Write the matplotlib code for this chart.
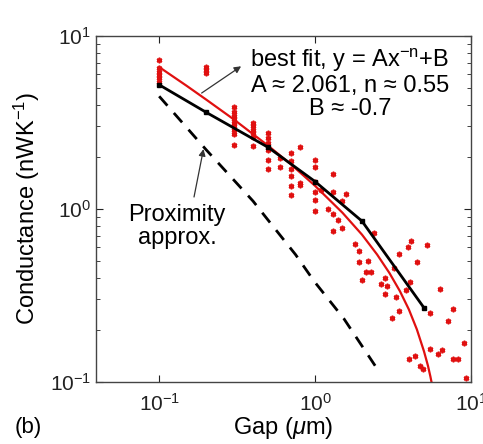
import matplotlib.pyplot as plt

plt.rcParams['font.family'] = ['Liberation Sans', 'DejaVu Sans']
plt.rcParams['mathtext.fontset'] = 'custom'
plt.rcParams['mathtext.rm'] = 'Liberation Sans'
plt.rcParams['mathtext.it'] = 'Liberation Sans:italic'
plt.rcParams['axes.unicode_minus'] = False

# measured conductance (red points)
gap_pts = [0.1, 0.1, 0.1, 0.1, 0.1, 0.1,
           0.2, 0.2, 0.2,
           0.3, 0.3, 0.3, 0.3, 0.3, 0.3, 0.3, 0.3, 0.3,
           0.4, 0.4, 0.4, 0.4, 0.4, 0.4,
           0.5, 0.5, 0.5, 0.5, 0.5, 0.5,
           0.6, 0.6,
           0.7, 0.7, 0.7, 0.7, 0.7, 0.7,
           0.8, 0.8, 0.8,
           1.0, 1.0, 1.0, 1.0, 1.0, 1.0,
           1.09, 1.21, 1.3, 1.3, 1.3, 1.3, 1.4, 1.5, 1.5, 1.58,
           1.8, 1.91, 1.91, 2.01, 2.11, 2.3, 2.19, 2.39, 2.64, 2.8, 2.91, 2.8,
           3.13, 3.32, 3.46, 3.46, 3.21, 3.92, 4.11, 4.07, 3.82, 4.54, 5.21,
           5.47, 6.35, 7.63, 7.15, 8.98, 5.47, 6.11, 6.57, 4.36, 4.01, 4.72,
           4.96, 7.63, 8.28, 9.33]
cond_pts = [7.3, 6.56, 6.22, 5.98, 5.74, 5.44,
            6.6, 6.35, 6.1,
            3.9, 3.65, 3.45, 3.3, 3.15, 3.0, 2.85, 2.7, 2.35,
            3.14, 3.0, 2.87, 2.75, 2.6, 2.3,
            2.75, 2.57, 2.41, 2.2, 1.91, 1.69,
            1.97, 1.75,
            2.11, 1.9, 1.69, 1.54, 1.35, 1.21,
            2.28, 1.42, 1.38,
            1.93, 1.74, 1.44, 1.25, 1.12, 0.97,
            1.29, 1.0, 1.59, 1.26, 0.93, 0.75, 0.86, 1.11, 0.78, 1.22,
            0.63, 0.57, 0.49, 0.39, 0.43, 0.43, 0.50, 0.73, 0.37, 0.40, 0.36, 0.32,
            0.234, 0.31, 0.55, 0.256, 0.456, 0.60, 0.65, 0.377, 0.34, 0.49, 0.62,
            0.25, 0.345, 0.262, 0.224, 0.168, 0.154, 0.144, 0.152, 0.141, 0.135, 0.124,
            0.119, 0.135, 0.135, 0.105]

# black averaged line
gap_avg = [0.1, 0.2, 0.5, 1.0, 2.0, 5.0]
cond_avg = [5.22, 3.62, 2.27, 1.44, 0.85, 0.268]

# best fit curve (red)
gap_fit = [0.1, 0.15, 0.2, 0.3, 0.5, 0.7, 1.0, 1.5, 2.0, 2.5, 3.0, 3.5, 4.0, 4.5, 5.0, 5.3, 5.5, 5.7]
cond_fit = [6.61, 5.15, 4.29, 3.30, 2.32, 1.81, 1.36, 0.95, 0.71, 0.545, 0.426, 0.335, 0.262,
            0.201, 0.150, 0.124, 0.107, 0.091]

# proximity approximation (dashed)
gap_prox = [0.1, 0.2, 0.4, 0.487, 0.75, 0.99, 1.53, 2.6]
cond_prox = [4.48, 2.2, 1.11, 0.887, 0.544, 0.38, 0.232, 0.113]

fig = plt.figure(figsize=(4.83, 4.44), dpi=100)
ax = fig.add_axes([0.199, 0.14, 0.776, 0.779])

red = '#e01010'
ax.plot(gap_pts, cond_pts, linestyle='none', marker=(6, 2, 0), ms=4, mew=1.2, color=red)
ax.plot(gap_fit, cond_fit, color=red, lw=1.6)
ax.plot(gap_avg, cond_avg, color='black', lw=2, marker='s', ms=3)
ax.plot(gap_prox, cond_prox, color='black', lw=2, dashes=(4.5, 3.5))

ax.set_xscale('log')
ax.set_yscale('log')
ax.set_xlim(0.0394, 10)
ax.set_ylim(0.1, 10)

ax.tick_params(which='both', direction='in', top=True, right=True, labelsize=15, colors='#222222')
ax.tick_params(which='major', length=5, width=0.8)
ax.tick_params(which='minor', length=3, width=0.6)
ax.tick_params(axis='x', which='minor', bottom=False, top=False)
ax.tick_params(axis='x', pad=8)
for s in ax.spines.values():
    s.set_color('#444444')
    s.set_linewidth(1)

ax.set_xlabel(r'Gap ($\mu$m)', fontsize=17, labelpad=0)
ax.set_ylabel(r'Conductance (nWK$^{\mathregular{-1}}$)', fontsize=17, labelpad=6)

ax.text(1.67, 5.34, 'best fit, y = Ax$^{\\mathregular{-n}}$+B\nA \u2248 2.061, n \u2248 0.55\nB \u2248 -0.7',
        fontsize=17, ha='center', va='center', multialignment='center', linespacing=1.05)
ax.annotate('', xy=(0.347, 6.82), xytext=(0.181, 4.58),
            arrowprops=dict(arrowstyle='-|>', color='#333333', lw=0.9, mutation_scale=10))

ax.text(0.130, 0.79, 'Proximity\napprox.', fontsize=17, ha='center', va='center',
        multialignment='center', linespacing=1.05)
ax.annotate('', xy=(0.194, 2.30), xytext=(0.166, 1.13),
            arrowprops=dict(arrowstyle='-|>', color='#333333', lw=0.9, mutation_scale=10))

fig.text(0.031, 0.025, '(b)', fontsize=16)

fig.savefig('out.png', dpi=100)
